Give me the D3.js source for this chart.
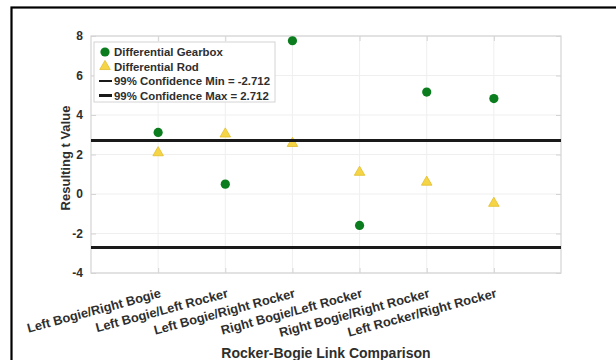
<!DOCTYPE html>
<html>
<head>
<meta charset="utf-8">
<script src="https://cdn.jsdelivr.net/npm/d3@7"></script>
<style>
  html, body { margin: 0; padding: 0; background: #fff; }
  svg { display: block; font-family: "Liberation Sans", Arial, sans-serif; font-weight: bold; }
</style>
</head>
<body>
<svg id="chart" width="616" height="360"></svg>
<script>
// Pairwise t statistics for each rocker-bogie link comparison
const categories = [
  "Left Bogie/Right Bogie",
  "Left Bogie/Left Rocker",
  "Left Bogie/Right Rocker",
  "Right Bogie/Left Rocker",
  "Right Bogie/Right Rocker",
  "Left Rocker/Right Rocker"
];
const gearboxValues = [3.12, 0.50, 7.76, -1.59, 5.16, 4.83];
const rodValues = [2.09, 3.04, 2.56, 1.10, 0.60, -0.47];
const confidenceMin = -2.712;
const confidenceMax = 2.712;
const yTicks = [-4, -2, 0, 2, 4, 6, 8];
const legendLabels = [
  "Differential Gearbox",
  "Differential Rod",
  "99% Confidence Min = -2.712",
  "99% Confidence Max = 2.712"
];

const svg = d3.select("#chart");
const W = 616, H = 360;
const plot = { left: 91, right: 561, top: 36, bottom: 273 };
const FONT = "'Liberation Sans', Arial, sans-serif";

const green = "#0b7d1e";
const yellowFill = "#f5d545";
const yellowEdge = "#e2bc2a";
const axisGray = "#d4d4d4";
const textGray = "#2e2e2e";

// outer frame
svg.append("rect")
  .attr("x", 11.5).attr("y", 7.5)
  .attr("width", W).attr("height", H)
  .attr("fill", "none").attr("stroke", "#000").attr("stroke-width", 2.2);

const x = d3.scaleLinear().domain([0, categories.length + 1]).range([plot.left, plot.right]);
const y = d3.scaleLinear().domain([-4, 8]).range([plot.bottom, plot.top]);

const g = svg.append("g");

// grid
g.append("g").selectAll("line").data(yTicks).join("line")
  .attr("x1", plot.left).attr("x2", plot.right)
  .attr("y1", d => y(d)).attr("y2", d => y(d))
  .attr("stroke", "#efefef").attr("stroke-width", 1);
g.append("g").selectAll("line").data(categories).join("line")
  .attr("x1", (d, i) => x(i + 1)).attr("x2", (d, i) => x(i + 1))
  .attr("y1", plot.top).attr("y2", plot.bottom)
  .attr("stroke", "#efefef").attr("stroke-width", 1);

// axes box
g.append("rect")
  .attr("x", plot.left).attr("y", plot.top)
  .attr("width", plot.right - plot.left).attr("height", plot.bottom - plot.top)
  .attr("fill", "none").attr("stroke", axisGray).attr("stroke-width", 1.2);

// left axis with inward ticks (plain hyphen for negatives)
const yAxis = d3.axisLeft(y).tickValues(yTicks)
  .tickFormat(d => String(d))
  .tickSizeInner(-5).tickSizeOuter(0).tickPadding(8);
const ya = g.append("g").attr("transform", `translate(${plot.left},0)`).call(yAxis);
ya.select(".domain").remove();
ya.selectAll(".tick line").attr("stroke", axisGray);
ya.selectAll(".tick text")
  .attr("fill", textGray).style("font-size", "12px").style("font-weight", "bold")
  .style("font-family", FONT);

// right side inward ticks
const yAxisR = d3.axisRight(y).tickValues(yTicks).tickSizeInner(-5).tickSizeOuter(0).tickFormat("");
const yr = g.append("g").attr("transform", `translate(${plot.right},0)`).call(yAxisR);
yr.select(".domain").remove();
yr.selectAll(".tick line").attr("stroke", axisGray);

// bottom axis with rotated category labels
const xAxis = d3.axisBottom(x)
  .tickValues(categories.map((d, i) => i + 1))
  .tickFormat(v => categories[v - 1])
  .tickSizeInner(-5).tickSizeOuter(0);
const xa = g.append("g").attr("transform", `translate(0,${plot.bottom})`).call(xAxis);
xa.select(".domain").remove();
xa.selectAll(".tick line").attr("stroke", axisGray);
xa.selectAll(".tick text")
  .attr("fill", textGray).style("font-size", "12.8px").style("font-weight", "bold")
  .style("font-family", FONT)
  .attr("text-anchor", "end")
  .attr("y", 0).attr("dy", 0)
  .attr("transform", "translate(3,24) rotate(-15)");

// top ticks
const xAxisT = d3.axisTop(x).tickValues(categories.map((d, i) => i + 1)).tickFormat("")
  .tickSizeInner(-5).tickSizeOuter(0);
const xt = g.append("g").attr("transform", `translate(0,${plot.top})`).call(xAxisT);
xt.select(".domain").remove();
xt.selectAll(".tick line").attr("stroke", axisGray);

// rod markers (drawn beneath the confidence lines)
const tri = d3.symbol().type(d3.symbolTriangle).size(48);
g.append("g").selectAll("path").data(rodValues).join("path")
  .attr("d", tri)
  .attr("transform", (d, i) => `translate(${x(i + 1)},${y(d)})`)
  .attr("fill", yellowFill).attr("stroke", yellowEdge).attr("stroke-width", 0.8);

// confidence limits
g.append("g").selectAll("line").data([confidenceMin, confidenceMax]).join("line")
  .attr("x1", plot.left).attr("x2", plot.right)
  .attr("y1", d => y(d)).attr("y2", d => y(d))
  .attr("stroke", "#1a1a1a").attr("stroke-width", 3);

// gearbox markers
g.append("g").selectAll("circle").data(gearboxValues).join("circle")
  .attr("cx", (d, i) => x(i + 1)).attr("cy", d => y(d))
  .attr("r", 4.6).attr("fill", green);

// axis titles
svg.append("text")
  .attr("transform", `translate(70,158) rotate(-90)`)
  .attr("text-anchor", "middle").attr("fill", textGray)
  .style("font-size", "13px").text("Resulting t Value");
svg.append("text")
  .attr("x", (plot.left + plot.right) / 2).attr("y", 358)
  .attr("text-anchor", "middle").attr("fill", textGray)
  .style("font-size", "14px").text("Rocker-Bogie Link Comparison");

// legend
const lg = svg.append("g").attr("transform", "translate(94,42)");
lg.append("rect").attr("width", 181).attr("height", 60)
  .attr("fill", "#fff").attr("stroke", axisGray).attr("stroke-width", 1);
const rowY = [10, 24.5, 39, 53.5];
lg.append("circle").attr("cx", 11).attr("cy", rowY[0]).attr("r", 4.6).attr("fill", green);
lg.append("path").attr("d", tri).attr("transform", `translate(11,${rowY[1]})`)
  .attr("fill", yellowFill).attr("stroke", yellowEdge).attr("stroke-width", 0.8);
lg.append("line").attr("x1", 5).attr("x2", 18).attr("y1", rowY[2]).attr("y2", rowY[2])
  .attr("stroke", "#1a1a1a").attr("stroke-width", 2);
lg.append("line").attr("x1", 5).attr("x2", 18).attr("y1", rowY[3]).attr("y2", rowY[3])
  .attr("stroke", "#1a1a1a").attr("stroke-width", 3);
lg.selectAll("text.lab").data(legendLabels).join("text")
  .attr("class", "lab")
  .attr("x", 20).attr("y", (d, i) => rowY[i]).attr("dy", "0.36em")
  .attr("fill", textGray).style("font-size", "11.4px")
  .text(d => d);
</script>
</body>
</html>
